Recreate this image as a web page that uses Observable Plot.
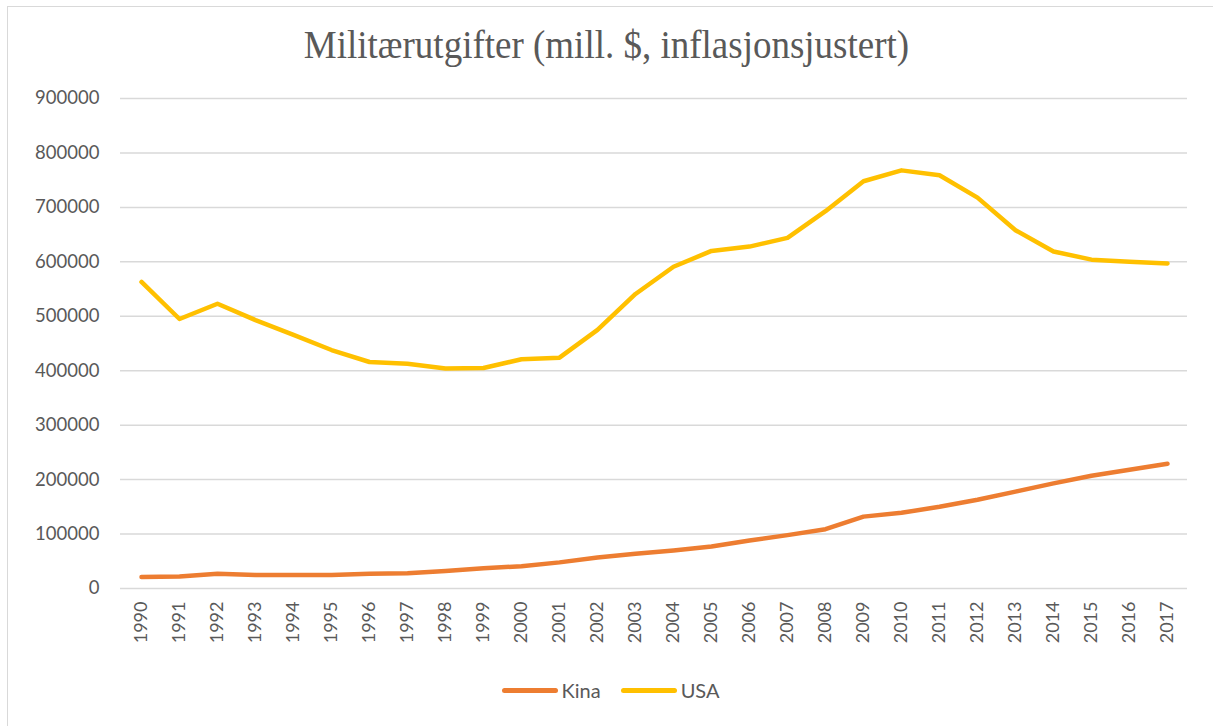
<!DOCTYPE html>
<html>
<head>
<meta charset="utf-8">
<script src="https://cdn.jsdelivr.net/npm/d3@7"></script>
<script src="https://cdn.jsdelivr.net/npm/@observablehq/plot@0.6"></script>
<style>
  body { margin: 0; background: #fff; }
  #frame { position: absolute; left: 7px; top: 6px; width: 1220px; height: 740px; border: 1.5px solid #d9d9d9; box-sizing: border-box; }
  #wrap { position: absolute; left: 0; top: 0; width: 1213px; }
  #title { height: 80px; display: flex; justify-content: center; align-items: center; padding-top: 8px; box-sizing: border-box; }
  #title span { display: inline-block; font-family: "Liberation Serif", "DejaVu Serif", serif; font-size: 37px; color: #595959; transform: scale(1, 1.1); white-space: nowrap; }
  #legend { display: flex; justify-content: center; align-items: center; gap: 20px; font-family: Lato, "Open Sans", sans-serif; font-size: 20px; color: #595959; margin-top: 18px; padding-left: 8px;}
  .item { display: flex; align-items: center; gap: 4px; }
  .sw { width: 56px; height: 5px; border-radius: 3px; }
</style>
</head>
<body>
<div id="frame"></div>
<div id="wrap">
  <div id="title"><span>Militærutgifter (mill. $, inflasjonsjustert)</span></div>
  <div id="chart"></div>
  <div id="legend"></div>
</div>
<script>
const years = d3.range(1990, 2018);
const kina = [21000, 22000, 27000, 25000, 25000, 25000, 27000, 28000, 32000, 37000, 41000, 48000, 57000, 64000, 70000, 77000, 88000, 98000, 109000, 132000, 139000, 150000, 163000, 178000, 193000, 207000, 218000, 229000];
const usa = [563000, 495000, 523000, 493000, 466000, 438000, 416000, 413000, 404000, 405000, 421000, 424000, 475000, 541000, 591000, 620000, 628000, 644000, 693000, 748000, 768000, 759000, 718000, 658000, 619000, 604000, 600000, 597000];
const yTicks = [0, 100000, 200000, 300000, 400000, 500000, 600000, 700000, 800000, 900000];
const seriesNames = ["Kina", "USA"];
const seriesColors = ["#ED7D31", "#FFC000"];

const data = [];
years.forEach((y, i) => {
  data.push({year: String(y), value: kina[i], series: "Kina"});
  data.push({year: String(y), value: usa[i], series: "USA"});
});

const chart = Plot.plot({
  width: 1213,
  height: 580,
  marginTop: 18,
  marginBottom: 72,
  marginLeft: 120,
  marginRight: 26,
  style: {fontFamily: "Lato, 'Open Sans', sans-serif", fontSize: "18px", color: "#595959", background: "transparent"},
  x: {type: "point", domain: years.map(String), padding: 0.5},
  y: {domain: [0, 900000]},
  color: {domain: seriesNames, range: seriesColors},
  marks: [
    Plot.ruleY(yTicks, {stroke: "#d9d9d9", strokeWidth: 1.5}),
    Plot.axisY({ticks: yTicks, tickFormat: d => String(d), tickSize: 0, tickPadding: 21, label: null, fontSize: 18.5}),
    Plot.axisX({tickRotate: -90, tickSize: 0, tickPadding: 13, label: null, fontSize: 18}),
    Plot.line(data, {x: "year", y: "value", z: "series", stroke: "series", strokeWidth: 4.5, strokeLinecap: "round", strokeLinejoin: "round"})
  ]
});
document.getElementById("chart").appendChild(chart);

const legend = document.getElementById("legend");
seriesNames.forEach((n, i) => {
  const it = document.createElement("div");
  it.className = "item";
  it.innerHTML = `<span class="sw" style="background:${seriesColors[i]}"></span><span>${n}</span>`;
  legend.appendChild(it);
});
</script>
</body>
</html>
